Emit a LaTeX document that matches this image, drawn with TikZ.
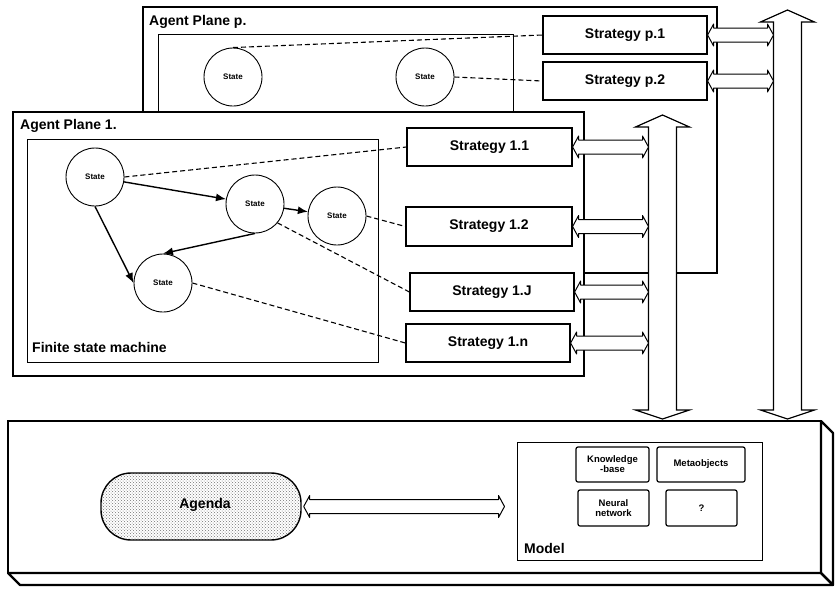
\documentclass[tikz,border=0pt]{standalone}
\usepackage{fontspec}
\setmainfont{Liberation Sans}
\usetikzlibrary{arrows.meta,patterns,calc}

\tikzset{
  plane/.style={rectangle, draw, line width=2.2pt, fill=white},
  frame/.style={rectangle, draw, line width=0.7pt},
  state/.style={circle, draw, line width=0.9pt, fill=white, minimum size=58pt, inner sep=0pt, font=\fontsize{8}{9}\selectfont\bfseries},
  strat/.style={rectangle, draw, line width=1.2pt, fill=white, minimum width=164pt, minimum height=38pt, font=\fontsize{14}{16}\selectfont\bfseries},
  lbl/.style={inner sep=0pt, font=\fontsize{14}{16}\selectfont\bfseries},
  link/.style={dashed, dash pattern=on 5pt off 3pt, line width=1.1pt},
  trans/.style={-{Latex[length=10pt,width=8pt]}, line width=1.4pt},
  hollow/.style={line width=1pt, fill=white, line join=round},
  bus/.style={line width=1.2pt, fill=white},
  part/.style={rectangle, rounded corners=2pt, draw, line width=1.2pt, fill=white, align=center, inner sep=1pt, font=\fontsize{9.5}{10}\selectfont\bfseries}
}

% double hollow arrow, horizontal, at the height of the first point
\newcommand\hollowlink[2]{%
  \draw[hollow] let \p1=(#1), \p2=(#2) in
    (\x1,\y1) -- (\x1+6pt,\y1+11pt) -- (\x1+6pt,\y1+7pt) -- (\x2-6pt,\y1+7pt)
    -- (\x2-6pt,\y1+11pt) -- (\x2,\y1) -- (\x2-6pt,\y1-11pt) -- (\x2-6pt,\y1-7pt)
    -- (\x1+6pt,\y1-7pt) -- (\x1+6pt,\y1-11pt) -- cycle;}

% vertical bus arrow from top tip to bottom tip
\newcommand\busarrow[2]{%
  \draw[bus] let \p1=(#1), \p2=(#2) in
    (\x1,\y1) -- (\x1+27pt,\y1-12pt) -- (\x1+14pt,\y1-12pt) -- (\x1+14pt,\y2+9pt)
    -- (\x1+27pt,\y2+9pt) -- (\x2,\y2) -- (\x1-27pt,\y2+9pt) -- (\x1-14pt,\y2+9pt)
    -- (\x1-14pt,\y1-12pt) -- (\x1-27pt,\y1-12pt) -- cycle;}

\begin{document}
\begin{tikzpicture}[x=1pt,y=-1pt]
  \useasboundingbox (0,0) rectangle (836,598);

  % agent plane p (behind)
  \node[plane, minimum width=574pt, minimum height=266pt] (planeP) at (430,140) {};
  \node[lbl, anchor=west] (nameP) at (149,22) {Agent Plane p.};
  \node[frame, minimum width=355pt, minimum height=230pt] (fsmP) at (335.5,149) {};

  \node[state] (sP1) at (233,77) {State};
  \node[state] (sP2) at (425,77) {State};
  \node[strat] (stP1) at (625,35) {Strategy p.1};
  \node[strat] (stP2) at (625,81) {Strategy p.2};

  \draw[link] (sP1.north) -- (stP1.west);
  \draw[link] (sP2.east) -- (stP2.west);

  \coordinate (busP top) at (787.5,10);
  \coordinate (busP bot) at (787.5,419);
  \busarrow{busP top}{busP bot}
  \coordinate (busP left) at (773.5,0);
  \hollowlink{stP1.east}{busP left}
  \hollowlink{stP2.east}{busP left}

  % agent plane 1 (front)
  \node[plane, line width=2.8pt, minimum width=571pt, minimum height=264pt] (plane1) at (298.5,244) {};
  \node[lbl, anchor=west] (name1) at (20,126) {Agent Plane 1.};
  \node[frame, minimum width=351pt, minimum height=223pt] (fsm1) at (202.5,250.5) {};
  \node[lbl, anchor=west] (fsmname) at (32,347) {Finite state machine};

  \node[state] (sA) at (95,177) {State};
  \node[state] (sB) at (255,204) {State};
  \node[state] (sC) at (337,216) {State};
  \node[state] (sD) at (163,283) {State};

  \draw[trans] (sA) -- (sB);
  \draw[trans] (sB) -- (sC);
  \draw[trans] (sB.south) -- (sD.north);
  \draw[trans] (sA.south) -- (sD.west);

  \node[strat, minimum width=165pt] (st11) at (489.5,147) {Strategy 1.1};
  \node[strat, minimum width=166pt, minimum height=39pt] (st12) at (489,226.5) {Strategy 1.2};
  \node[strat] (st1j) at (492,292) {Strategy 1.J};
  \node[strat] (st1n) at (488,343) {Strategy 1.n};

  \draw[link] (sA.east) -- (st11.west);
  \draw[link] (sC.east) -- (st12.west);
  \draw[link] (sB.-40) -- (st1j.west);
  \draw[link] (sD.east) -- (st1n.west);

  \coordinate (bus1 top) at (662.5,115);
  \coordinate (bus1 bot) at (662.5,419);
  \busarrow{bus1 top}{bus1 bot}
  \coordinate (bus1 left) at (648.5,0);
  \hollowlink{st11.east}{bus1 left}
  \hollowlink{st12.east}{bus1 left}
  \hollowlink{st1j.east}{bus1 left}
  \hollowlink{st1n.east}{bus1 left}

  % base with agenda and model
  \node[plane, line width=2.6pt, outer sep=0pt, minimum width=813pt, minimum height=152pt] (base) at (414.5,497) {};
  \draw[line width=2.2pt, line join=round] (base.north east) -- ++(12pt,-12pt) -- ++(0,-152pt) -- (base.south east) -- cycle;
  \draw[line width=2.2pt, line join=round] (base.south west) -- ++(12pt,-12pt) -- ++(813pt,0) -- (base.south east) -- cycle;

  \node[draw, line width=1.4pt, rounded corners=30pt, minimum width=200pt, minimum height=67pt,
        pattern=crosshatch dots, pattern color=black!55] (agenda) at (201,506.5) {};
  \node[lbl] (agendaname) at (205,505) {Agenda};

  \node[frame, line width=1pt, minimum width=245pt, minimum height=118pt] (model) at (639.5,501) {};
  \node[lbl, anchor=west] (modelname) at (524,548) {Model};

  \node[part, minimum width=73pt, minimum height=35pt] (kb) at (612.5,464.5) {Knowledge\\-base};
  \node[part, minimum width=88pt, minimum height=35pt] (meta) at (701,464.5) {Metaobjects};
  \node[part, minimum width=71pt, minimum height=36pt] (nn) at (613.5,508) {Neural\\network};
  \node[part, minimum width=71pt, minimum height=36pt] (unknown) at (701.5,508) {?};

  \hollowlink{[xshift=2pt]agenda.east}{[xshift=-12pt]model.west}
\end{tikzpicture}
\end{document}
